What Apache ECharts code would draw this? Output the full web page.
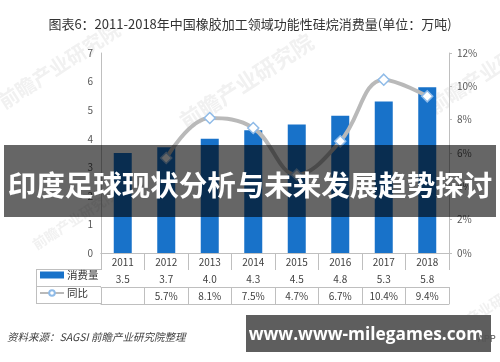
<!DOCTYPE html>
<html><head><meta charset="utf-8">
<script src="https://cdn.jsdelivr.net/npm/echarts@6/dist/echarts.min.js"></script>
<style>html,body{margin:0;padding:0;background:#fff}#c{width:500px;height:362px}</style>
</head><body><div id="c"></div>
<script>
const years = ['2011','2012','2013','2014','2015','2016','2017','2018'];
const consumption = [3.5, 3.7, 4.0, 4.3, 4.5, 4.8, 5.3, 5.8];
const yoy = [null, 5.7, 8.1, 7.5, 4.7, 6.7, 10.4, 9.4];
const leftAxis = {min: 0, max: 7, interval: 1};
const rightAxis = {min: 0, max: 12, interval: 2};
const seriesNames = ['消费量', '同比'];
const titleText = '图表6：2011-2018年中国橡胶加工领域功能性硅烷消费量(单位：万吨)';
const bannerText = '印度足球现状分析与未来发展趋势探讨';
const sourceText = '资料来源：SAGSI 前瞻产业研究院整理';
const siteText = 'www.www-milegames.com';
const watermarkText = '前瞻产业研究院';

const FONT = '"Noto Sans CJK SC", "Noto Sans", sans-serif';
const lineC = '#bfbfbf';
const txtC = '#404040';
const rowH = 17;

function tableAxis(idx, fmt, showLabel) {
  return {
    type: 'category', data: years, position: 'bottom', offset: idx * rowH,
    boundaryGap: true,
    axisLine: {show: true, lineStyle: {color: lineC, width: 1}},
    axisTick: {show: showLabel, length: rowH, lineStyle: {color: lineC}},
    axisLabel: {show: showLabel, margin: 4, fontSize: 10, color: txtC, fontFamily: FONT,
      formatter: (v, i) => fmt(i)}
  };
}

function wm(x, y, size) {
  return {type: 'text', x: x, y: y, rotation: 33 * Math.PI / 180, z: -10,
    style: {text: watermarkText, fontSize: size, fontWeight: 'bold', fill: '#f1f1f1', fontFamily: FONT}};
}

const chart = echarts.init(document.getElementById('c'));
chart.setOption({
  animation: false,
  textStyle: {fontFamily: FONT},
  title: {text: titleText, left: 'center', top: 13,
    textStyle: {fontSize: 13, fontWeight: 'normal', color: '#333', fontFamily: FONT}},
  grid: {left: 101, right: 51, top: 53, bottom: 109, containLabel: false},
  legend: {
    orient: 'vertical', left: 39, top: 268.5, padding: 0, itemWidth: 24, itemHeight: 7, itemGap: 5,
    textStyle: {fontSize: 10.5, lineHeight: 13, color: '#333', fontFamily: FONT, padding: [0, 0, 0, -2]},
    data: [{name: seriesNames[0], icon: 'rect'}, {name: seriesNames[1]}]
  },
  xAxis: [
    tableAxis(0, i => years[i], true),
    tableAxis(1, i => consumption[i].toFixed(1), true),
    tableAxis(2, i => (yoy[i] == null ? '' : yoy[i].toFixed(1) + '%'), true),
    tableAxis(3, i => '', false)
  ],
  yAxis: [
    {type: 'value', min: leftAxis.min, max: leftAxis.max, interval: leftAxis.interval,
      axisLine: {show: true, lineStyle: {color: lineC}}, axisTick: {show: false},
      splitLine: {show: false},
      axisLabel: {margin: 8, fontSize: 10, color: '#595959'}},
    {type: 'value', min: rightAxis.min, max: rightAxis.max, interval: rightAxis.interval,
      position: 'right',
      axisLine: {show: true, lineStyle: {color: lineC}},
      axisTick: {show: true, length: 3, lineStyle: {color: lineC}},
      splitLine: {show: false},
      axisLabel: {margin: 8, fontSize: 10, color: '#595959', formatter: '{value}%'}}
  ],
  series: [
    {name: seriesNames[0], type: 'bar', data: consumption, barWidth: 18,
      itemStyle: {color: '#1872c9'}},
    {name: seriesNames[1], type: 'line', yAxisIndex: 1,
      data: yoy.map(v => (v == null ? '-' : {value: v, symbol: 'diamond'})),
      smooth: 0.4, symbol: 'circle', symbolSize: 11, showSymbol: true,
      lineStyle: {color: '#b9b9b9', width: 4},
      itemStyle: {color: '#fff', borderColor: '#8fbbe8', borderWidth: 1.5}}
  ],
  graphic: [
    wm(-5, 95, 20), wm(176, 114, 22), wm(425, 100, 20), wm(30, 240, 14), wm(440, 330, 14),
    {type: 'line', shape: {x1: 36, y1: 269.5, x2: 101, y2: 269.5}, style: {stroke: lineC, lineWidth: 1}},
    {type: 'line', shape: {x1: 36, y1: 286.5, x2: 101, y2: 286.5}, style: {stroke: lineC, lineWidth: 1}},
    {type: 'line', shape: {x1: 36, y1: 303.5, x2: 101, y2: 303.5}, style: {stroke: lineC, lineWidth: 1}},
    {type: 'line', shape: {x1: 36.5, y1: 269.5, x2: 36.5, y2: 303.5}, style: {stroke: lineC, lineWidth: 1}},
    {type: 'text', left: 7, top: 332, style: {text: sourceText, fontSize: 10.5, fontStyle: 'italic',
      fill: '#404040', fontFamily: FONT}},
    {type: 'rect', shape: {x: 4, y: 145, width: 492, height: 72}, style: {fill: 'rgba(0,0,0,0.6)'}, z: 100},
    {type: 'text', x: 250, y: 185, z: 101, style: {text: bannerText, fontSize: 28.5, fontWeight: 'bold',
      fill: '#fff', fontFamily: FONT, align: 'center', verticalAlign: 'middle'}},
    {type: 'rect', shape: {x: 246, y: 315, width: 245, height: 37}, style: {fill: '#5e5e5e'}, z: 100},
    {type: 'text', x: 366, y: 335, z: 101, style: {text: siteText, fontSize: 17.3, fontWeight: 'bold',
      fill: '#fff', fontFamily: '"Open Sans", "Noto Sans", sans-serif', align: 'center', verticalAlign: 'middle'}},
    {type: 'text', x: 478, y: 338, z: 102, style: {text: 'APP', fontSize: 9.5, fill: '#555',
      fontFamily: FONT, verticalAlign: 'middle'}}
  ]
});
</script></body></html>
